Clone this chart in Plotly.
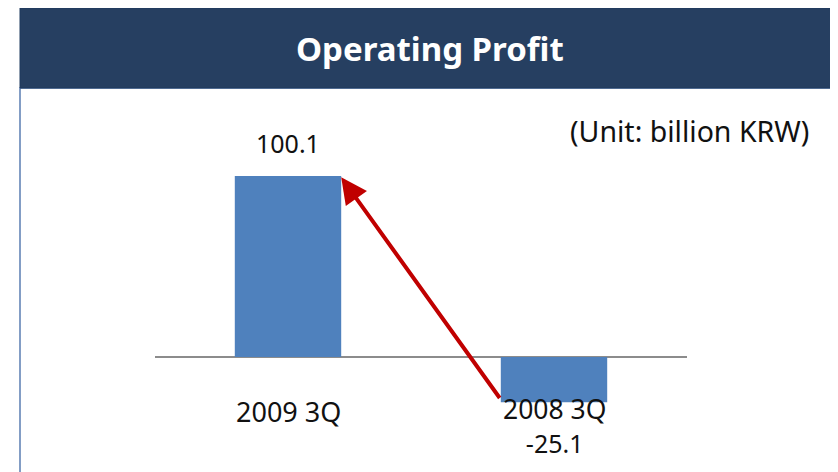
import plotly.graph_objects as go

categories = ["2009 3Q", "2008 3Q"]
values = [100.1, -25.1]
value_labels = ["100.1", "-25.1"]
title_text = "Operating Profit"
unit_text = "(Unit: billion KRW)"

W, H = 838, 472
OFF = 8  # page body margin offset
FONT = "Noto Sans"

def px_x(p):
    return (p - OFF) / W

def px_y(p):
    return 1 - (p - OFF) / H

fig = go.Figure()
fig.add_trace(go.Bar(
    x=[0, 1], y=values,
    marker=dict(color="#4f81bd", line=dict(width=0)),
    width=0.4,
    hoverinfo="skip",
))

annotations = []
# value label above positive bar
annotations.append(dict(x=0, y=values[0], xref="x", yref="y", text=value_labels[0],
                        showarrow=False, yanchor="middle", yshift=33,
                        font=dict(family=FONT, size=25, color="#111111")))
# category label for first bar
annotations.append(dict(x=0, y=0, xref="x", yref="y", text=categories[0], showarrow=False,
                        yanchor="middle", yshift=-55,
                        font=dict(family=FONT, size=27, color="#111111")))
# category label + value label for negative bar (stacked lines)
annotations.append(dict(x=1, y=0, xref="x", yref="y",
                        text=categories[1] + "<br><span style='font-size:25px'>"
                        + value_labels[1] + "</span>",
                        showarrow=False, yanchor="middle", yshift=-69,
                        font=dict(family=FONT, size=26.5, color="#111111")))
# arrow from 2008 bar to 2009 bar
annotations.append(dict(x=0.2, y=99.3, xref="x", yref="y",
                        ax=0.8, ay=-23.5, axref="x", ayref="y",
                        showarrow=True, arrowhead=2, arrowsize=1.3, arrowwidth=4,
                        arrowcolor="#c00000", text="", standoff=0, startstandoff=0))
# title
annotations.append(dict(x=px_x(430), y=px_y(49), xref="paper", yref="paper",
                        text="<b>" + title_text + "</b>", showarrow=False,
                        xanchor="center", yanchor="middle",
                        font=dict(family=FONT, size=33, color="white")))
annotations.append(dict(x=px_x(811), y=px_y(131), xref="paper", yref="paper",
                        text=unit_text, showarrow=False,
                        xanchor="right", yanchor="middle",
                        font=dict(family=FONT, size=28.5, color="#111111")))

shapes = [
    dict(type="rect", xref="paper", yref="paper",
         x0=px_x(20), x1=px_x(835), y0=px_y(88), y1=px_y(490),
         line=dict(color="#5b7db3", width=1.5), fillcolor="white", layer="below"),
    dict(type="rect", xref="paper", yref="paper",
         x0=px_x(20), x1=px_x(835), y0=px_y(88), y1=px_y(8),
         line=dict(color="#1f3a5f", width=1), fillcolor="#263f61", layer="below"),
]

y_top_px, y_bot_px = 158.0 - OFF, 429.3 - OFF
fig.update_layout(
    width=W, height=H,
    margin=dict(l=0, r=0, t=0, b=0),
    paper_bgcolor="white", plot_bgcolor="rgba(0,0,0,0)",
    showlegend=False,
    annotations=annotations,
    shapes=shapes,
    xaxis=dict(domain=[(155 - OFF) / W, (687 - OFF) / W], range=[-0.5, 1.5],
               showticklabels=False, showgrid=False, zeroline=False, showline=False,
               fixedrange=True),
    yaxis=dict(domain=[1 - y_bot_px / H, 1 - y_top_px / H], range=[-40, 110],
               showticklabels=False, showgrid=False, zeroline=True,
               zerolinecolor="#8c8c8c", zerolinewidth=2, showline=False, fixedrange=True),
)

fig.write_html("out.html")
